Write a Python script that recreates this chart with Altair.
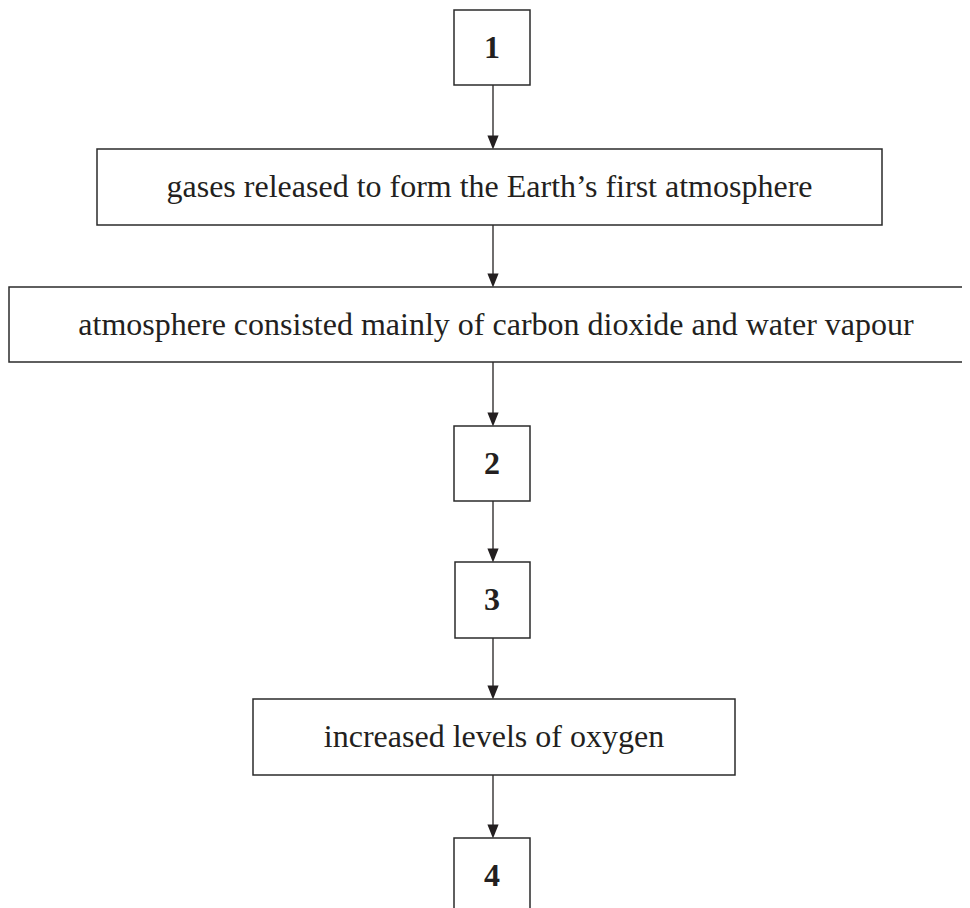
import altair as alt
import pandas as pd

# Flowchart boxes (page pixel layout, top to bottom)
box_labels = [
    "1",
    "gases released to form the Earth\u2019s first atmosphere",
    "atmosphere consisted mainly of carbon dioxide and water vapour",
    "2",
    "3",
    "increased levels of oxygen",
    "4",
]
box_bold = [True, False, False, True, True, False, True]
box_left = [454, 97, 9, 454, 455, 253, 454]
box_right = [530, 882, 983, 530, 530, 735, 530]
box_top = [10, 149, 287, 426, 562, 699, 838]
box_bottom = [85, 225, 362, 501, 638, 775, 913]
label_x = [492, 489.5, 496, 492, 492, 494, 492]

arrow_x = 493

boxes = pd.DataFrame({
    "label": box_labels,
    "bold": box_bold,
    "x0": box_left,
    "x1": box_right,
    "y0": box_top,
    "y1": box_bottom,
    "tx": label_x,
})
boxes["ty"] = (boxes["y0"] + boxes["y1"]) / 2

arrows = pd.DataFrame({
    "x": [arrow_x] * (len(box_labels) - 1),
    "ys": box_bottom[:-1],
    "ye": box_top[1:],
})
arrows["ye_line"] = arrows["ye"] - 10
arrows["yh"] = arrows["ye"] - 6.5

W, H = 954, 900
xs = alt.Scale(domain=[8, 8 + W], nice=False, zero=False)
ys = alt.Scale(domain=[8, 8 + H], nice=False, zero=False, reverse=True)

base_b = alt.Chart(boxes)
rects = base_b.mark_rect(fill="white", stroke="#2b2b2b", strokeWidth=1.5, clip=True).encode(
    x=alt.X("x0:Q", scale=xs, axis=None),
    x2="x1:Q",
    y=alt.Y("y0:Q", scale=ys, axis=None),
    y2="y1:Q",
)

txt_regular = base_b.transform_filter("!datum.bold").mark_text(
    font="Liberation Serif", fontSize=32, color="#231f20", align="center", baseline="middle"
).encode(
    x=alt.X("tx:Q", scale=xs, axis=None),
    y=alt.Y("ty:Q", scale=ys, axis=None),
    text="label:N",
)

txt_bold = base_b.transform_filter("datum.bold").mark_text(
    font="Liberation Serif", fontSize=32, fontWeight="bold", color="#231f20",
    align="center", baseline="middle"
).encode(
    x=alt.X("tx:Q", scale=xs, axis=None),
    y=alt.Y("ty:Q", scale=ys, axis=None),
    text="label:N",
)

base_a = alt.Chart(arrows)
lines = base_a.mark_rule(color="#231f20", strokeWidth=1.3).encode(
    x=alt.X("x:Q", scale=xs, axis=None),
    y=alt.Y("ys:Q", scale=ys, axis=None),
    y2="ye_line:Q",
)
heads = base_a.mark_point(
    shape="M-0.8,-1L0.8,-1L0,1Z", filled=True, size=196, color="#231f20", opacity=1
).encode(
    x=alt.X("x:Q", scale=xs, axis=None),
    y=alt.Y("yh:Q", scale=ys, axis=None),
)

chart = alt.layer(lines, heads, rects, txt_regular, txt_bold).properties(
    width=W, height=H, autosize=alt.AutoSizeParams(type="none"), padding=0
).configure(background="white").configure_view(stroke=None)

chart.save("out.html", embed_options={"renderer": "svg", "actions": False})
